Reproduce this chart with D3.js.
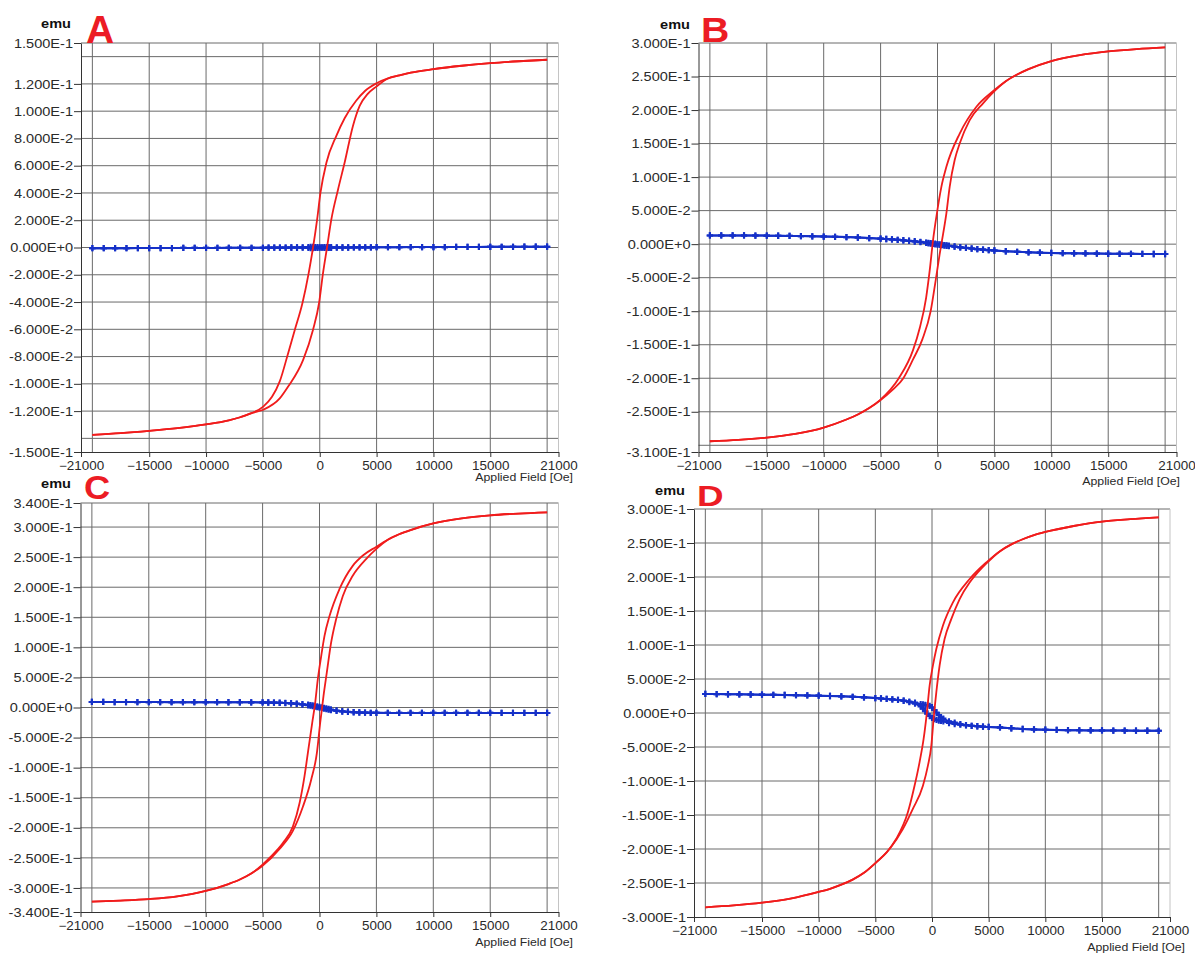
<!DOCTYPE html>
<html>
<head>
<meta charset="utf-8">
<script src="https://cdn.jsdelivr.net/npm/d3@7"></script>
<style>
  body { margin: 0; background: #fff; }
  svg text { font-family: "Liberation Sans", Arial, sans-serif; }
</style>
</head>
<body>
<svg id="chart" width="1195" height="954"></svg>
<script>
// x axis (Applied Field, Oe)
var xDomain = [-21000, 21000];
var xTickLabels = [-21000, -15000, -10000, -5000, 0, 5000, 10000, 15000, 21000];
var xGrid = [-20000, -15000, -10000, -5000, 0, 5000, 10000, 15000, 20000];

// y ticks / grid (emu)
var yTicksA = [-0.15, -0.12, -0.10, -0.08, -0.06, -0.04, -0.02, 0, 0.02, 0.04, 0.06, 0.08, 0.10, 0.12, 0.15];
var yGridA = [-0.14, -0.12, -0.10, -0.08, -0.06, -0.04, -0.02, 0, 0.02, 0.04, 0.06, 0.08, 0.10, 0.12, 0.14];
var yTicksB = [-0.31, -0.25, -0.20, -0.15, -0.10, -0.05, 0, 0.05, 0.10, 0.15, 0.20, 0.25, 0.30];
var yGridB = [-0.30, -0.25, -0.20, -0.15, -0.10, -0.05, 0, 0.05, 0.10, 0.15, 0.20, 0.25];
var yTicksC = [-0.34, -0.30, -0.25, -0.20, -0.15, -0.10, -0.05, 0, 0.05, 0.10, 0.15, 0.20, 0.25, 0.30, 0.34];
var yGridC = [-0.30, -0.25, -0.20, -0.15, -0.10, -0.05, 0, 0.05, 0.10, 0.15, 0.20, 0.25, 0.30];
var yTicksD = [-0.30, -0.25, -0.20, -0.15, -0.10, -0.05, 0, 0.05, 0.10, 0.15, 0.20, 0.25, 0.30];
var yGridD = [-0.25, -0.20, -0.15, -0.10, -0.05, 0, 0.05, 0.10, 0.15, 0.20, 0.25];

// red loops: [field, moment] for the descending and ascending branch
var redDownA = [[20000,0.1377],[17500,0.1366],[15000,0.1352],[12500,0.1333],[10000,0.1308],[8000,0.1282],[7000,0.1262],[6000,0.1240],[5000,0.1205],[4000,0.1150],[3200,0.1076],[2200,0.0950],[1460,0.0819],[590,0.0623],[60,0.0400],[-230,0.0206],[-590,0.0000],[-970,-0.0186],[-1520,-0.0407],[-2190,-0.0603],[-2780,-0.0775],[-3510,-0.0980],[-4200,-0.1095],[-4970,-0.1167],[-6000,-0.1215],[-7000,-0.1245],[-8000,-0.1268],[-10000,-0.1298],[-12500,-0.1325],[-15000,-0.1345],[-17500,-0.1362],[-20000,-0.1375]];
var redUpA = [[-20000,-0.1375],[-17500,-0.1362],[-15000,-0.1345],[-12500,-0.1325],[-10000,-0.1298],[-8000,-0.1268],[-7000,-0.1245],[-6000,-0.1215],[-4970,-0.1190],[-3500,-0.1105],[-2780,-0.1020],[-1460,-0.0824],[-590,-0.0603],[-60,-0.0407],[290,-0.0186],[640,0.0000],[1020,0.0206],[1610,0.0426],[2190,0.0623],[2920,0.0892],[3510,0.1039],[4200,0.1125],[4970,0.1180],[6000,0.1240],[7000,0.1262],[8000,0.1282],[10000,0.1308],[12500,0.1333],[15000,0.1352],[17500,0.1366],[20000,0.1377]];

var redDownB = [[20000,0.2935],[17500,0.2910],[15000,0.2875],[12500,0.2820],[10000,0.2730],[8000,0.2610],[7000,0.2530],[6000,0.2430],[4870,0.2280],[3420,0.2050],[1950,0.1650],[780,0.1154],[340,0.0855],[-100,0.0408],[-390,0.0060],[-690,-0.0400],[-1000,-0.0800],[-1560,-0.1250],[-2150,-0.1580],[-3400,-0.2000],[-5080,-0.2330],[-6000,-0.2445],[-7000,-0.2540],[-8000,-0.2615],[-10000,-0.2735],[-12500,-0.2830],[-15000,-0.2885],[-17500,-0.2920],[-20000,-0.2940]];
var redUpB = [[-20000,-0.2940],[-17500,-0.2920],[-15000,-0.2885],[-12500,-0.2830],[-10000,-0.2735],[-8000,-0.2615],[-7000,-0.2540],[-6000,-0.2445],[-5080,-0.2335],[-4000,-0.2180],[-3000,-0.2000],[-2150,-0.1720],[-1330,-0.1420],[-600,-0.1000],[-170,-0.0550],[190,-0.0150],[400,0.0060],[780,0.0458],[1070,0.0855],[1510,0.1254],[1950,0.1500],[2830,0.1850],[4000,0.2100],[4870,0.2260],[6000,0.2430],[7000,0.2530],[8000,0.2610],[10000,0.2730],[12500,0.2820],[15000,0.2875],[17500,0.2910],[20000,0.2935]];

var redDownC = [[20000,0.3245],[17500,0.3225],[15000,0.3195],[12500,0.3145],[10000,0.3060],[8000,0.2950],[7000,0.2880],[6000,0.2790],[4970,0.2670],[3900,0.2540],[2920,0.2355],[1750,0.1967],[880,0.1520],[440,0.1190],[150,0.0855],[-150,0.0467],[-380,0.0078],[-640,-0.0255],[-940,-0.0645],[-1320,-0.1145],[-1750,-0.1588],[-2340,-0.1980],[-3220,-0.2255],[-4390,-0.2500],[-5060,-0.2620],[-6000,-0.2760],[-7000,-0.2860],[-8000,-0.2935],[-10000,-0.3050],[-12500,-0.3140],[-15000,-0.3185],[-17500,-0.3210],[-20000,-0.3228]];
var redUpC = [[-20000,-0.3228],[-17500,-0.3210],[-15000,-0.3185],[-12500,-0.3140],[-10000,-0.3050],[-8000,-0.2935],[-7000,-0.2860],[-6000,-0.2760],[-5060,-0.2640],[-3510,-0.2350],[-2340,-0.2050],[-1460,-0.1650],[-730,-0.1200],[-230,-0.0755],[60,-0.0255],[350,0.0189],[640,0.0578],[1020,0.1078],[1460,0.1467],[2050,0.1855],[2920,0.2190],[4090,0.2467],[4970,0.2633],[6000,0.2790],[7000,0.2880],[8000,0.2950],[10000,0.3060],[12500,0.3145],[15000,0.3195],[17500,0.3225],[20000,0.3245]];

var redDownD = [[20000,0.2877],[17500,0.2850],[15000,0.2815],[12500,0.2750],[10000,0.2662],[9000,0.2615],[8000,0.2555],[7000,0.2480],[6000,0.2380],[4800,0.2216],[3320,0.1970],[1850,0.1628],[960,0.1284],[380,0.0941],[80,0.0696],[-210,0.0402],[-450,0.0010],[-740,-0.0382],[-1100,-0.0725],[-1540,-0.1070],[-2130,-0.1460],[-3150,-0.1850],[-4000,-0.2050],[-4920,-0.2196],[-6000,-0.2350],[-7000,-0.2450],[-8000,-0.2525],[-9000,-0.2585],[-10000,-0.2632],[-12500,-0.2730],[-15000,-0.2790],[-17500,-0.2830],[-20000,-0.2858]];
var redUpD = [[-20000,-0.2858],[-17500,-0.2830],[-15000,-0.2790],[-12500,-0.2730],[-10000,-0.2632],[-9000,-0.2585],[-8000,-0.2525],[-7000,-0.2450],[-6000,-0.2350],[-4920,-0.2196],[-3750,-0.2000],[-2570,-0.1706],[-1690,-0.1410],[-800,-0.1070],[-360,-0.0775],[-60,-0.0480],[140,-0.0088],[380,0.0304],[670,0.0696],[1110,0.1088],[1700,0.1380],[2440,0.1676],[3320,0.1920],[4000,0.2060],[4800,0.2200],[6000,0.2380],[7000,0.2480],[8000,0.2555],[9000,0.2615],[10000,0.2662],[12500,0.2750],[15000,0.2815],[17500,0.2850],[20000,0.2877]];

// blue series: measured at these fields (both branches)
var fieldGrid = [-20000,-19000,-18000,-17000,-16000,-15000,-14000,-13000,-12000,-11000,
  -10000,-9000,-8000,-7000,-6000,-5000,
  -4500,-4000,-3500,-3000,-2500,-2000,-1500,
  -1000,-800,-600,-400,-200,0,200,400,600,800,1000,
  1500,2000,2500,3000,3500,4000,4500,
  5000,6000,7000,8000,9000,10000,
  11000,12000,13000,14000,15000,16000,17000,18000,19000,20000];

var blueDownA = [-0.0005,-0.0005,-0.0005,-0.0005,-0.0004,-0.0004,-0.0004,-0.0004,-0.0003,-0.0003,
  -0.0003,-0.0003,-0.0002,-0.0002,-0.0002,-0.0002,
  -0.0001,-0.0001,-0.0001,-0.0001,0.0000,0.0000,0.0001,
  0.0003,0.0004,0.0004,0.0003,0.0002,0.0001,-0.0001,-0.0002,-0.0003,-0.0003,-0.0002,
  -0.0001,0.0000,0.0000,0.0001,0.0001,0.0001,0.0001,
  0.0002,0.0002,0.0002,0.0003,0.0003,0.0003,
  0.0003,0.0004,0.0004,0.0004,0.0005,0.0005,0.0005,0.0006,0.0006,0.0006];
var blueUpA = [-0.0005,-0.0005,-0.0005,-0.0005,-0.0004,-0.0004,-0.0004,-0.0004,-0.0003,-0.0003,
  -0.0003,-0.0003,-0.0002,-0.0002,-0.0002,-0.0002,
  -0.0001,-0.0001,-0.0001,-0.0001,0.0000,0.0000,-0.0001,
  -0.0003,-0.0004,-0.0004,-0.0003,-0.0002,-0.0001,0.0001,0.0002,0.0003,0.0003,0.0002,
  0.0001,0.0000,0.0000,0.0001,0.0001,0.0001,0.0001,
  0.0002,0.0002,0.0002,0.0003,0.0003,0.0003,
  0.0003,0.0004,0.0004,0.0004,0.0005,0.0005,0.0005,0.0006,0.0006,0.0006];

var blueDownB = [0.0130,0.0130,0.0130,0.0130,0.0128,0.0127,0.0125,0.0123,0.0120,0.0117,
  0.0113,0.0110,0.0105,0.0099,0.0090,0.0082,
  0.0077,0.0071,0.0065,0.0058,0.0051,0.0043,0.0034,
  0.0024,0.0020,0.0016,0.0011,0.0006,0.0001,-0.0004,-0.0009,-0.0014,-0.0019,-0.0024,
  -0.0035,-0.0046,-0.0056,-0.0065,-0.0074,-0.0082,-0.0089,
  -0.0095,-0.0106,-0.0115,-0.0122,-0.0127,-0.0131,
  -0.0134,-0.0137,-0.0139,-0.0141,-0.0143,-0.0144,-0.0145,-0.0146,-0.0147,-0.0147];
var blueUpB = [0.0130,0.0130,0.0130,0.0130,0.0128,0.0127,0.0125,0.0123,0.0120,0.0117,
  0.0113,0.0110,0.0105,0.0099,0.0090,0.0082,
  0.0077,0.0071,0.0064,0.0056,0.0048,0.0039,0.0029,
  0.0018,0.0013,0.0008,0.0003,-0.0002,-0.0007,-0.0012,-0.0016,-0.0020,-0.0024,-0.0028,
  -0.0038,-0.0048,-0.0057,-0.0066,-0.0074,-0.0082,-0.0089,
  -0.0095,-0.0106,-0.0115,-0.0122,-0.0127,-0.0131,
  -0.0134,-0.0137,-0.0139,-0.0141,-0.0143,-0.0144,-0.0145,-0.0146,-0.0147,-0.0147];

var blueDownC = [0.0092,0.0092,0.0091,0.0091,0.0090,0.0090,0.0090,0.0089,0.0089,0.0089,
  0.0088,0.0088,0.0087,0.0087,0.0086,0.0085,
  0.0083,0.0081,0.0078,0.0074,0.0068,0.0060,0.0050,
  0.0037,0.0030,0.0023,0.0015,0.0007,-0.0001,-0.0010,-0.0019,-0.0028,-0.0036,-0.0043,
  -0.0057,-0.0067,-0.0074,-0.0079,-0.0083,-0.0086,-0.0088,
  -0.0089,-0.0090,-0.0090,-0.0090,-0.0090,-0.0090,
  -0.0090,-0.0090,-0.0090,-0.0090,-0.0090,-0.0091,-0.0091,-0.0091,-0.0091,-0.0091];
var blueUpC = [0.0092,0.0092,0.0091,0.0091,0.0090,0.0090,0.0090,0.0089,0.0089,0.0089,
  0.0088,0.0088,0.0087,0.0087,0.0086,0.0085,
  0.0083,0.0081,0.0079,0.0076,0.0071,0.0064,0.0055,
  0.0046,0.0041,0.0035,0.0028,0.0020,0.0011,0.0002,-0.0007,-0.0016,-0.0025,-0.0033,
  -0.0050,-0.0062,-0.0071,-0.0078,-0.0082,-0.0086,-0.0088,
  -0.0089,-0.0090,-0.0090,-0.0090,-0.0090,-0.0090,
  -0.0090,-0.0090,-0.0090,-0.0090,-0.0090,-0.0091,-0.0091,-0.0091,-0.0091,-0.0091];

var blueDownD = [0.0280,0.0278,0.0276,0.0274,0.0272,0.0270,0.0268,0.0265,0.0262,0.0258,
  0.0255,0.0250,0.0245,0.0238,0.0230,0.0220,
  0.0214,0.0207,0.0200,0.0192,0.0182,0.0168,0.0152,
  0.0132,0.0125,0.0118,0.0112,0.0106,0.0085,0.0045,0.0008,-0.0030,-0.0062,-0.0082,
  -0.0122,-0.0142,-0.0163,-0.0178,-0.0188,-0.0195,-0.0201,
  -0.0205,-0.0212,-0.0224,-0.0235,-0.0242,-0.0246,
  -0.0249,-0.0252,-0.0254,-0.0256,-0.0257,-0.0258,-0.0259,-0.0260,-0.0261,-0.0262];
var blueUpD = [0.0280,0.0278,0.0276,0.0274,0.0272,0.0270,0.0268,0.0265,0.0262,0.0258,
  0.0255,0.0250,0.0245,0.0238,0.0230,0.0220,
  0.0214,0.0207,0.0200,0.0192,0.0180,0.0160,0.0138,
  0.0098,0.0065,0.0025,-0.0010,-0.0045,-0.0072,-0.0088,-0.0101,-0.0110,-0.0117,-0.0123,
  -0.0148,-0.0162,-0.0172,-0.0180,-0.0188,-0.0195,-0.0201,
  -0.0205,-0.0212,-0.0224,-0.0235,-0.0242,-0.0246,
  -0.0249,-0.0252,-0.0254,-0.0256,-0.0257,-0.0258,-0.0259,-0.0260,-0.0261,-0.0262];

// layout of the four panels
var panels = [
  { letter: "A", down: redDownA, up: redUpA, bDown: blueDownA, bUp: blueUpA,
    yDomain: [-0.15, 0.15], yTicks: yTicksA, yGrid: yGridA,
    box: { l: 81, r: 558.5, t: 43, b: 452 },
    tag: { x: 86, y: 43, size: 39, sx: 1.0 }, emu: { x: 56, y: 28 }, xlab: { x: 573, y: 481 } },
  { letter: "B", down: redDownB, up: redUpB, bDown: blueDownB, bUp: blueUpB,
    yDomain: [-0.31, 0.30], yTicks: yTicksB, yGrid: yGridB,
    box: { l: 698.5, r: 1176.5, t: 43, b: 452 },
    tag: { x: 701, y: 42, size: 35, sx: 1.12 }, emu: { x: 675, y: 29 }, xlab: { x: 1180, y: 485 } },
  { letter: "C", down: redDownC, up: redUpC, bDown: blueDownC, bUp: blueUpC,
    yDomain: [-0.34, 0.34], yTicks: yTicksC, yGrid: yGridC,
    box: { l: 80.5, r: 558.5, t: 503, b: 912 },
    tag: { x: 84, y: 499, size: 33, sx: 1.1 }, emu: { x: 56, y: 488 }, xlab: { x: 573, y: 946 } },
  { letter: "D", down: redDownD, up: redUpD, bDown: blueDownD, bUp: blueUpD,
    yDomain: [-0.30, 0.30], yTicks: yTicksD, yGrid: yGridD,
    box: { l: 694, r: 1170, t: 509, b: 917 },
    tag: { x: 697, y: 506, size: 29.5, sx: 1.25 }, emu: { x: 670, y: 495 }, xlab: { x: 1185, y: 951 } }
];

var SX = 1.12;   // the scanned lettering is a little wide
var sci = function(d) { return d.toExponential(3).replace("e", "E"); };
var svg = d3.select("#chart");

panels.forEach(function(p) {
  var x = d3.scaleLinear().domain(xDomain).range([p.box.l, p.box.r]);
  var y = d3.scaleLinear().domain(p.yDomain).range([p.box.b, p.box.t]);
  var g = svg.append("g");

  // grid
  g.append("g").selectAll("line").data(xGrid).join("line")
    .attr("x1", function(d) { return x(d); }).attr("x2", function(d) { return x(d); })
    .attr("y1", p.box.t).attr("y2", p.box.b)
    .attr("stroke", "#6a6a6a").attr("stroke-width", 1);
  g.append("g").selectAll("line").data(p.yGrid).join("line")
    .attr("x1", p.box.l).attr("x2", p.box.r)
    .attr("y1", function(d) { return y(d); }).attr("y2", function(d) { return y(d); })
    .attr("stroke", "#6a6a6a").attr("stroke-width", 1);

  // frame
  g.append("line").attr("x1", p.box.l).attr("x2", p.box.r).attr("y1", p.box.t).attr("y2", p.box.t)
    .attr("stroke", "#6a6a6a");
  g.append("line").attr("x1", p.box.r).attr("x2", p.box.r).attr("y1", p.box.t).attr("y2", p.box.b)
    .attr("stroke", "#c4c4c4");

  // y axis
  var ya = g.append("g").attr("transform", "translate(" + p.box.l + ",0)")
    .call(d3.axisLeft(y).tickValues(p.yTicks).tickFormat(sci)
      .tickSizeInner(7).tickSizeOuter(0).tickPadding(1));
  ya.attr("font-family", null).attr("font-size", null);
  ya.select(".domain").attr("stroke", "#333");
  ya.selectAll(".tick line").attr("stroke", "#333");
  ya.selectAll(".tick text")
    .attr("font-size", 13).attr("fill", "#2a2a2a")
    .attr("x", -8 / SX).attr("transform", "scale(" + SX + ",1)");

  // x axis
  var xa = g.append("g").attr("transform", "translate(0," + p.box.b + ")")
    .call(d3.axisBottom(x).tickValues(xTickLabels).tickFormat(d3.format("d"))
      .tickSizeInner(5).tickSizeOuter(0).tickPadding(4));
  xa.attr("font-family", null).attr("font-size", null);
  xa.select(".domain").attr("stroke", "#333");
  xa.selectAll(".tick line").attr("stroke", "#333");
  xa.selectAll(".tick text")
    .attr("font-size", 12).attr("fill", "#2a2a2a")
    .attr("transform", "scale(" + SX + ",1)");

  // blue series with markers
  var blueLine = d3.line().x(function(d) { return x(d[0]); }).y(function(d) { return y(d[1]); });
  [p.bDown, p.bUp].forEach(function(vals) {
    var pts = fieldGrid.map(function(h, i) { return [h, vals[i]]; });
    g.append("path").datum(pts)
      .attr("d", blueLine).attr("fill", "none")
      .attr("stroke", "#1530c8").attr("stroke-width", 2);
    g.append("g").selectAll("path").data(pts).join("path")
      .attr("transform", function(d) { return "translate(" + x(d[0]) + "," + y(d[1]) + ")"; })
      .attr("d", d3.symbol().type(d3.symbolCross).size(22))
      .attr("fill", "#1530c8");
  });

  // red hysteresis loop
  var redLine = d3.line().curve(d3.curveMonotoneX)
    .x(function(d) { return x(d[0]); }).y(function(d) { return y(d[1]); });
  [p.down, p.up].forEach(function(branch) {
    var pts = branch.slice().sort(function(a, b) { return a[0] - b[0]; });
    g.append("path").datum(pts)
      .attr("d", redLine).attr("fill", "none")
      .attr("stroke", "#f01c1c").attr("stroke-width", 1.8);
  });

  // labels
  g.append("text").text("emu")
    .attr("transform", "translate(" + p.emu.x + "," + p.emu.y + ") scale(" + SX + ",1)")
    .attr("text-anchor", "middle").attr("font-weight", "bold").attr("font-size", 13)
    .attr("fill", "#111");
  g.append("text").text("Applied Field [Oe]")
    .attr("transform", "translate(" + p.xlab.x + "," + p.xlab.y + ") scale(" + SX + ",1)")
    .attr("text-anchor", "end").attr("font-size", 11).attr("fill", "#2a2a2a");
  g.append("text").text(p.letter)
    .attr("transform", "translate(" + p.tag.x + "," + p.tag.y + ") scale(" + p.tag.sx + ",1)")
    .attr("font-weight", "bold").attr("font-size", p.tag.size)
    .attr("fill", "#ec1c24");
});
</script>
</body>
</html>
